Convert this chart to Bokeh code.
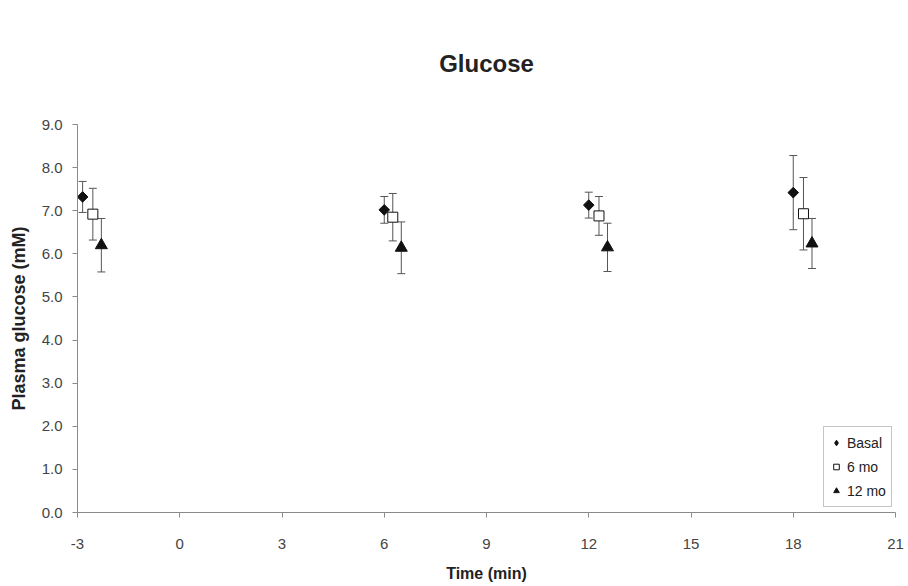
import math
from bokeh.plotting import figure
from bokeh.models import (ColumnDataSource, Whisker, TeeHead, FixedTicker,
                          NumeralTickFormatter, Range1d, Legend, LegendItem)
from bokeh.embed import file_html
from bokeh.resources import INLINE

# ---- data ----
title_text = "Glucose"
series_names = ["Basal", "6 mo", "12 mo"]
x_ticks = [-3, 0, 3, 6, 9, 12, 15, 18, 21]
y_ticks = [0, 1, 2, 3, 4, 5, 6, 7, 8, 9]

basal_x = [-2.85, 6.0, 12.0, 18.0]
basal_y = [7.32, 7.02, 7.13, 7.42]
basal_err = [0.36, 0.31, 0.30, 0.86]

mo6_x = [-2.55, 6.25, 12.3, 18.3]
mo6_y = [6.92, 6.85, 6.88, 6.93]
mo6_err = [0.60, 0.55, 0.45, 0.84]

mo12_x = [-2.3, 6.5, 12.55, 18.55]
mo12_y = [6.20, 6.14, 6.15, 6.24]
mo12_err = [0.62, 0.60, 0.56, 0.58]

FONT = "Liberation Sans"

p = figure(width=908, height=586, output_backend="svg", toolbar_location=None,
           x_range=Range1d(-3, 21), y_range=Range1d(0, 9),
           min_border_left=77, min_border_right=13,
           min_border_top=124, min_border_bottom=74)

p.title.text = title_text
p.title.align = "center"
p.title.vertical_align = "top"
p.title.text_font = FONT
p.title.text_font_size = "24px"
p.title.text_font_style = "bold"
p.title.text_color = "#222222"
p.title.standoff = 92

p.outline_line_color = None
p.xgrid.visible = False
p.ygrid.visible = False

for ax in (p.xaxis[0], p.yaxis[0]):
    ax.axis_line_color = "#8a8a8a"
    ax.major_tick_line_color = "#8a8a8a"
    ax.minor_tick_line_color = None
    ax.major_tick_in = 0
    ax.major_tick_out = 5
    ax.major_label_text_font = FONT
    ax.major_label_text_font_size = "15px"
    ax.major_label_text_color = "#444444"
    ax.axis_label_text_font = FONT
    ax.axis_label_text_font_style = "bold"
    ax.axis_label_text_color = "#222222"

p.xaxis.ticker = FixedTicker(ticks=x_ticks)
p.yaxis.ticker = FixedTicker(ticks=y_ticks)
p.xaxis.formatter = NumeralTickFormatter(format="0")
p.yaxis.formatter = NumeralTickFormatter(format="0.0")
p.xaxis.axis_label = "Time (min)"
p.yaxis.axis_label = "Plasma glucose (mM)"
p.xaxis.axis_label_text_font_size = "16px"
p.yaxis.axis_label_text_font_size = "18px"
p.xaxis.major_label_standoff = 21
p.xaxis.axis_label_standoff = 13
p.yaxis.major_label_standoff = 10
p.yaxis.axis_label_standoff = 10

def make_source(xs, ys, errs):
    return ColumnDataSource(dict(x=xs, y=ys,
                                 lo=[a - b for a, b in zip(ys, errs)],
                                 hi=[a + b for a, b in zip(ys, errs)]))

def add_whisker(src):
    w = Whisker(source=src, base="x", lower="lo", upper="hi",
                line_color="#555555", line_width=1,
                upper_head=TeeHead(size=8, line_color="#555555", line_width=1),
                lower_head=TeeHead(size=8, line_color="#555555", line_width=1))
    p.add_layout(w)

src_b = make_source(basal_x, basal_y, basal_err)
src_6 = make_source(mo6_x, mo6_y, mo6_err)
src_12 = make_source(mo12_x, mo12_y, mo12_err)
for s in (src_b, src_6, src_12):
    add_whisker(s)

# diamond glyph (hidden under the rotated square) that provides the legend key
r_basal_key = p.scatter("x", "y", source=src_b, marker="diamond", size=9,
                        fill_color="#111111", line_color="#111111")
r_basal = p.scatter("x", "y", source=src_b, marker="square", size=7.5,
                    angle=math.pi / 4, fill_color="#111111", line_color="#111111")
r_6 = p.scatter("x", "y", source=src_6, marker="square", size=10,
                fill_color="white", line_color="#111111", line_width=1)
r_12 = p.scatter("x", "y", source=src_12, marker="triangle", size=12,
                 fill_color="#111111", line_color="#111111", line_width=1)

lg = Legend(items=[LegendItem(label=series_names[0], renderers=[r_basal_key]),
                   LegendItem(label=series_names[1], renderers=[r_6]),
                   LegendItem(label=series_names[2], renderers=[r_12])])
lg.location = (746, 5)
lg.margin = 0
lg.padding = 5
lg.spacing = 3
lg.glyph_width = 14
lg.glyph_height = 21
lg.label_standoff = 4
lg.label_text_font = FONT
lg.label_text_font_size = "14px"
lg.label_text_color = "#222222"
lg.border_line_color = "#8a8a8a"
lg.border_line_width = 1
lg.background_fill_color = "white"
p.add_layout(lg, "center")

open("out.html", "w").write(file_html(p, INLINE))
